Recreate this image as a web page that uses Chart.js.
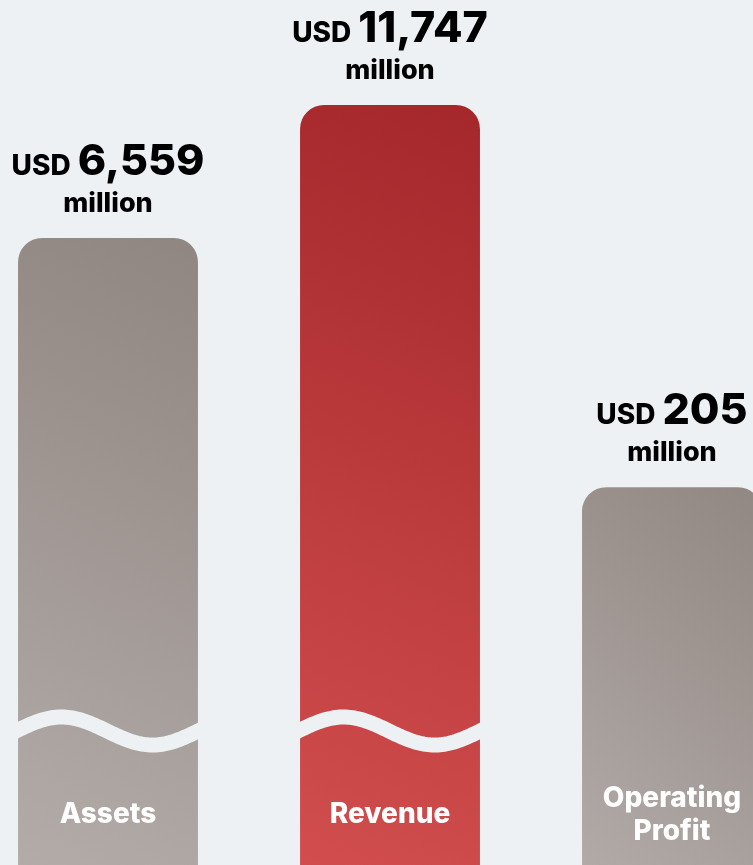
<!DOCTYPE html>
<html>
<head>
<meta charset="utf-8">
<script src="https://cdn.jsdelivr.net/npm/chart.js@4/dist/chart.umd.min.js"></script>
<style>
  html, body { margin: 0; padding: 0; background: #edf1f4; overflow: hidden; }
  #wrap { position: relative; width: 753px; height: 865px; overflow: hidden; }
  #chart { position: absolute; left: -33px; top: 0; }
</style>
</head>
<body>
<div id="wrap"><canvas id="chart" width="846" height="865"></canvas></div>
<script>
// categories and figures (USD million)
var categories = ["Assets", "Revenue", ["Operating", "Profit"]];
var valuesUsdMillion = [6559, 11747, 205];
// bar heights are stylised (broken axis), relative to revenue = 100
var shownHeights = [82.5, 100, 49.7];
var hasBreak = [true, true, false];

var BG = "#edf1f4";
var grayStops = ["#b4ada9", "#8e8480"];
var redStops = ["#d34f4f", "#a3262a"];
var barStops = [grayStops, redStops, grayStops];

function fmt(n) { return n.toLocaleString("en-US"); }

// diagonal gradient per bar (bottom-left light -> top-right dark)
function barFill(c) {
  var chart = c.chart;
  var stops = barStops[c.dataIndex];
  if (!chart.chartArea) return stops[1];
  var x = chart.scales.x.getPixelForValue(c.dataIndex);
  var top = chart.scales.y.getPixelForValue(shownHeights[c.dataIndex]);
  var bottom = chart.chartArea.bottom;
  var g = chart.ctx.createLinearGradient(x - 150, bottom, x + 150, top);
  g.addColorStop(0, stops[0]);
  g.addColorStop(1, stops[1]);
  return g;
}

var labelPlugin = {
  id: "barText",
  afterDatasetsDraw: function(chart) {
    var ctx = chart.ctx;
    var bars = chart.getDatasetMeta(0).data;
    bars.forEach(function(bar, i) {
      var left = bar.x - bar.width / 2, right = bar.x + bar.width / 2;
      // wave break, clipped to the bar
      if (hasBreak[i]) {
        ctx.save();
        ctx.beginPath();
        ctx.rect(left, bar.y, bar.width, bar.base - bar.y);
        ctx.clip();
        var mid = chart.chartArea.bottom - 134;
        ctx.beginPath();
        for (var t = -10; t <= bar.width + 10; t += 2) {
          var yy = mid - 14 * Math.sin(2 * Math.PI * (t + 2) / 182);
          if (t === -10) ctx.moveTo(left + t, yy); else ctx.lineTo(left + t, yy);
        }
        ctx.strokeStyle = BG;
        ctx.lineWidth = 15;
        ctx.stroke();
        ctx.restore();
      }

      ctx.save();
      // value above bar
      var top = bar.y;
      var small = "800 28px Inter";
      var big = "800 43px Inter";
      var num = fmt(valuesUsdMillion[i]);
      ctx.font = small; var w1 = ctx.measureText("USD").width;
      ctx.font = big; var w2 = ctx.measureText(num).width;
      var gap = 7;
      var start = bar.x - (w1 + gap + w2) / 2;
      ctx.fillStyle = "#000";
      ctx.textAlign = "left";
      ctx.textBaseline = "alphabetic";
      ctx.font = small; ctx.fillText("USD", start, top - 63);
      ctx.font = big; ctx.fillText(num, start + w1 + gap, top - 63);
      ctx.textAlign = "center";
      ctx.font = "800 27px Inter";
      ctx.fillText("million", bar.x, top - 26);

      // category inside bar
      var lines = [].concat(categories[i]);
      ctx.fillStyle = "#ffffff";
      ctx.font = "800 28px Inter";
      ctx.textBaseline = "middle";
      var lh = 33;
      var y0 = 815 - (lines.length - 1) * lh / 2;
      lines.forEach(function(l, k) { ctx.fillText(l, bar.x, y0 + k * lh); });
      ctx.restore();
    });
  }
};

new Chart(document.getElementById("chart"), {
  type: "bar",
  data: {
    labels: categories,
    datasets: [{
      data: shownHeights,
      backgroundColor: barFill,
      borderWidth: 0,
      borderSkipped: "bottom",
      borderRadius: { topLeft: 24, topRight: 24, bottomLeft: 0, bottomRight: 0 },
      categoryPercentage: 1,
      barPercentage: 0.638
    }]
  },
  options: {
    responsive: false,
    animation: false,
    layout: { padding: 0 },
    plugins: { legend: { display: false }, tooltip: { enabled: false } },
    scales: {
      x: { display: false },
      y: { display: false, min: 0, max: 113.8 }
    }
  },
  plugins: [labelPlugin]
});
</script>
</body>
</html>
